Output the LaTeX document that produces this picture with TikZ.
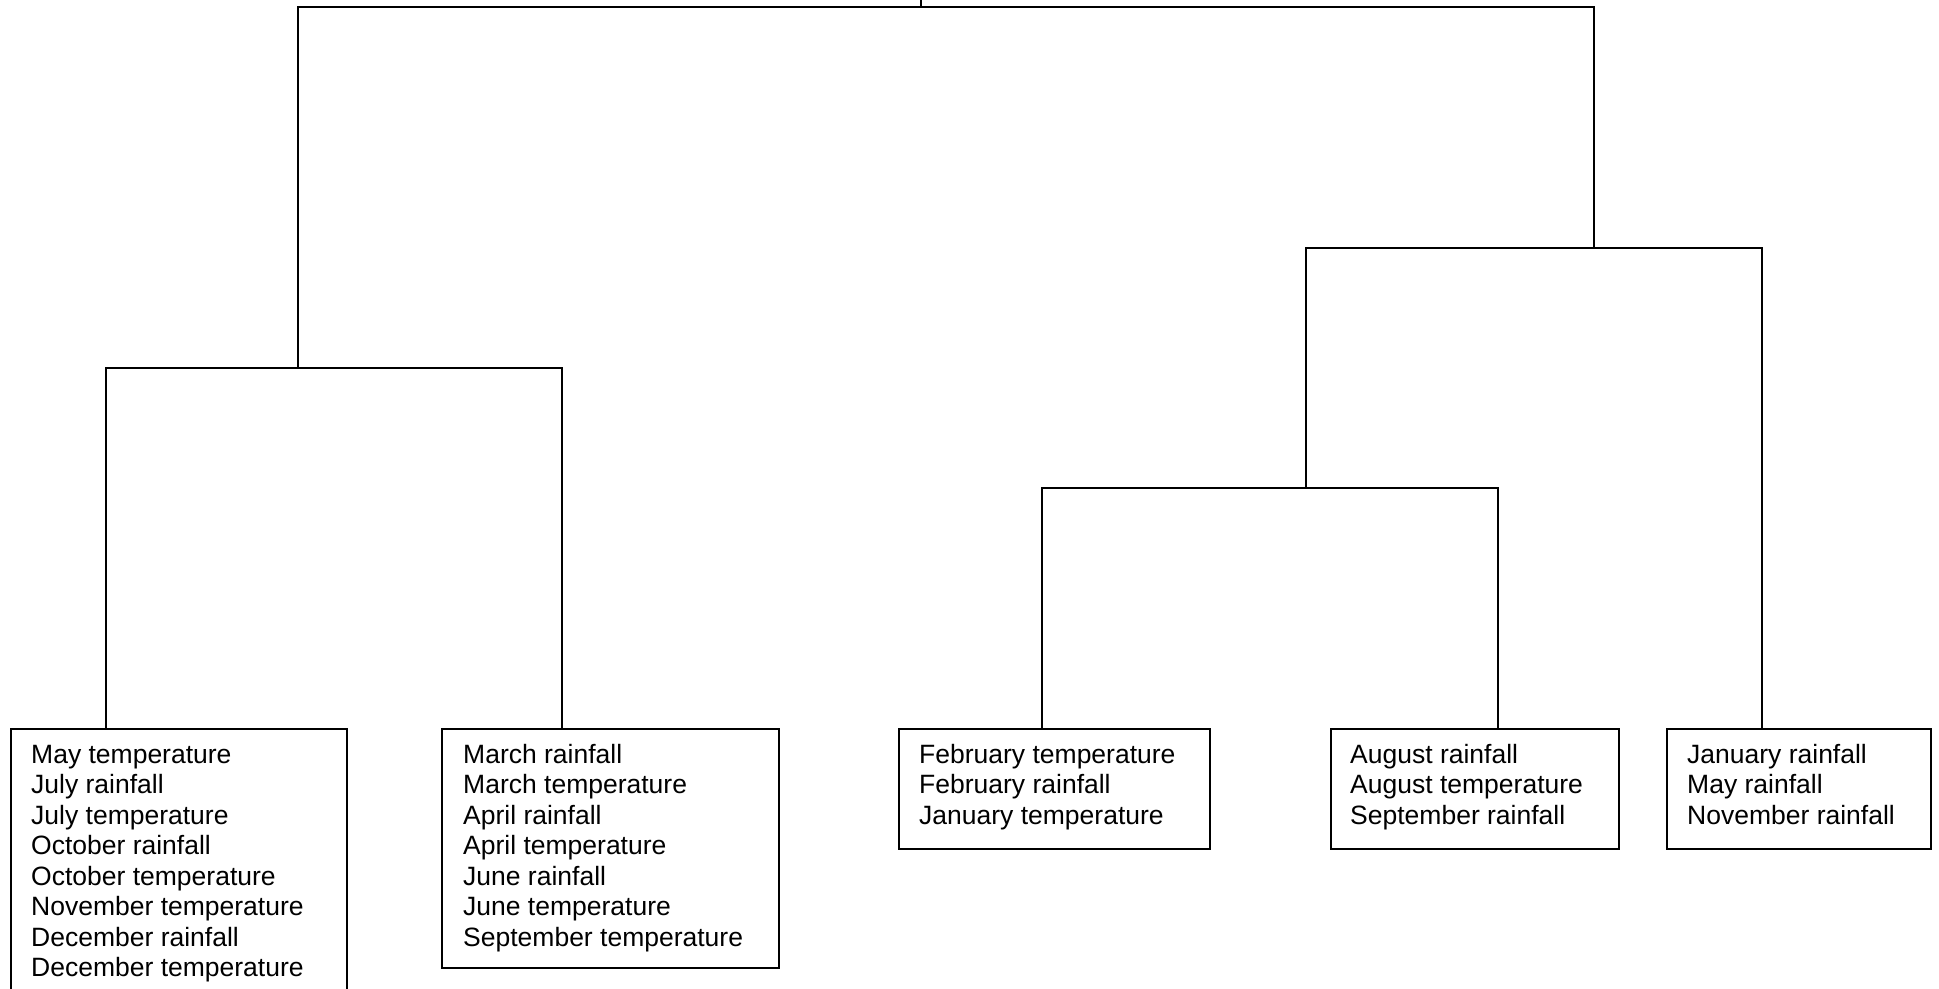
\documentclass[tikz,border=0pt]{standalone}
\usepackage{fontspec}
\setmainfont{Liberation Sans}
\begin{document}
\begin{tikzpicture}[x=1bp,y=-1bp,
  box/.style={draw, line width=2bp, anchor=north west, inner sep=0pt},
  txt/.style={anchor=north west, inner sep=0pt, align=left, font=\fontsize{26.5bp}{30.5bp}\selectfont},
  link/.style={line width=2bp}]
\useasboundingbox (0,0) rectangle (1939,988);
\fill[white] (0,0) rectangle (1939,988);
% boxes
\node[box, minimum width=336bp, minimum height=320bp] (b1) at (10,728) {};
\node[box, minimum width=337bp, minimum height=239bp] (b2) at (441,728) {};
\node[box, minimum width=311bp, minimum height=120bp] (b3) at (898,728) {};
\node[box, minimum width=288bp, minimum height=120bp] (b4) at (1330,728) {};
\node[box, minimum width=264bp, minimum height=120bp] (b5) at (1666,728) {};
% texts
\node[txt] (t1) at (31,728) {\rule{0pt}{35bp}May temperature\\July rainfall\\July temperature\\October rainfall\\October temperature\\November temperature\\December rainfall\\December temperature};
\node[txt] (t2) at (463,728) {\rule{0pt}{35bp}March rainfall\\March temperature\\April rainfall\\April temperature\\June rainfall\\June temperature\\September temperature};
\node[txt] (t3) at (919,728) {\rule{0pt}{35bp}February temperature\\February rainfall\\January temperature};
\node[txt] (t4) at (1350,728) {\rule{0pt}{35bp}August rainfall\\August temperature\\September rainfall};
\node[txt] (t5) at (1687,728) {\rule{0pt}{35bp}January rainfall\\May rainfall\\November rainfall};
% attachment points and junctions
\coordinate (l1) at (106,728);
\coordinate (l2) at (562,728);
\coordinate (l3) at (1042,728);
\coordinate (l4) at (1498,728);
\coordinate (l5) at (1762,728);
\coordinate (cL) at (298,368);
\coordinate (cRL) at (1306,488);
\coordinate (cR) at (1594,248);
\coordinate (top) at (921,0);
\coordinate (c0) at (921,7);
% dendrogram
\draw[line width=1.3bp] (top) -- (c0);
\draw[link] (l1) |- (cL) -| (l2);
\draw[link] (l3) |- (cRL) -| (l4);
\draw[link] (cRL) |- (cR) -| (l5);
\draw[link] (cL) |- (c0) -| (cR);
\end{tikzpicture}
\end{document}
